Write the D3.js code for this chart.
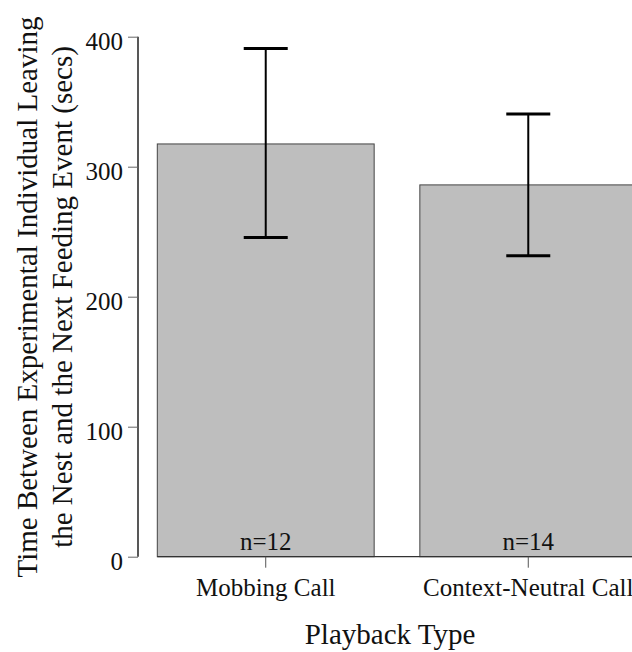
<!DOCTYPE html>
<html>
<head>
<meta charset="utf-8">
<script src="https://cdn.jsdelivr.net/npm/d3@7"></script>
<style>
  html, body { margin: 0; padding: 0; background: #fff; }
  svg text { font-family: "Liberation Serif", "Times New Roman", serif; fill: #111; }
</style>
</head>
<body>
<div id="graph-container"></div>
<script>
// data
const categories = ['Mobbing Call', 'Context-Neutral Call'];
const means = [317.5, 286];
const upper = [391, 340.5];
const lower = [245.5, 231.5];
const sampleSizes = ['n=12', 'n=14'];
const yTicks = [0, 100, 200, 300, 400];

const width = 632;
const height = 652;

const svg = d3.select('#graph-container')
              .append('svg')
              .attr('width', width)
              .attr('height', height);

const y = d3.scaleLinear()
            .domain([0, 400])
            .range([556.7, 36.7]);

// bars run off the right edge like in the original
const x = d3.scaleBand()
            .domain(categories)
            .range([157.3, 636.7])
            .paddingInner(0.174)
            .paddingOuter(0);

// bars
svg.selectAll('rect.bar')
   .data(categories)
   .enter()
   .append('rect')
   .attr('class', 'bar')
   .attr('x', d => x(d))
   .attr('y', (d, i) => y(means[i]))
   .attr('width', x.bandwidth())
   .attr('height', (d, i) => y(0) - y(means[i]))
   .attr('fill', '#bebebe')
   .attr('stroke', '#444')
   .attr('stroke-width', 1);

// baseline under the bars
svg.append('line')
   .attr('x1', x.range()[0])
   .attr('x2', x.range()[1])
   .attr('y1', y(0))
   .attr('y2', y(0))
   .attr('stroke', '#333')
   .attr('stroke-width', 1.2);

// error bars
const capHalf = 22;
const err = svg.selectAll('g.err')
               .data(categories)
               .enter()
               .append('g')
               .attr('class', 'err')
               .attr('stroke', '#000')
               .attr('stroke-width', 2);

err.append('line')
   .attr('x1', d => x(d) + x.bandwidth() / 2)
   .attr('x2', d => x(d) + x.bandwidth() / 2)
   .attr('y1', (d, i) => y(upper[i]))
   .attr('y2', (d, i) => y(lower[i]));

err.append('line')
   .attr('x1', d => x(d) + x.bandwidth() / 2 - capHalf)
   .attr('x2', d => x(d) + x.bandwidth() / 2 + capHalf)
   .attr('y1', (d, i) => y(upper[i]))
   .attr('y2', (d, i) => y(upper[i]))
   .attr('stroke-width', 3);

err.append('line')
   .attr('x1', d => x(d) + x.bandwidth() / 2 - capHalf)
   .attr('x2', d => x(d) + x.bandwidth() / 2 + capHalf)
   .attr('y1', (d, i) => y(lower[i]))
   .attr('y2', (d, i) => y(lower[i]))
   .attr('stroke-width', 3);

// sample sizes inside the bars
svg.selectAll('text.n')
   .data(categories)
   .enter()
   .append('text')
   .attr('class', 'n')
   .attr('x', d => x(d) + x.bandwidth() / 2)
   .attr('y', 550)
   .attr('text-anchor', 'middle')
   .attr('font-size', 25)
   .text((d, i) => sampleSizes[i]);

// y axis
const yAxis = svg.append('g')
                 .attr('transform', 'translate(138,0)')
                 .call(d3.axisLeft(y)
                         .tickValues(yTicks)
                         .tickSize(10)
                         .tickPadding(5));
yAxis.select('.domain')
     .attr('d', `M0,${y(400)}V${y(0)}`)
     .attr('stroke', '#111')
     .attr('stroke-width', 1.4);
yAxis.selectAll('.tick line')
     .attr('stroke', '#666');
yAxis.selectAll('.tick text')
     .attr('font-size', 25)
     .attr('fill', '#111')
     .attr('dy', '0.32em')
     .attr('y', 5);

// x axis ticks and labels
const xAxis = svg.append('g')
                 .attr('transform', `translate(0,${y(0)})`)
                 .call(d3.axisBottom(x)
                         .tickSize(11)
                         .tickPadding(10));
xAxis.select('.domain').remove();
xAxis.selectAll('.tick line')
     .attr('stroke', '#555');
xAxis.selectAll('.tick text')
     .attr('font-size', 25)
     .attr('fill', '#111')
     .attr('dy', 0)
     .attr('y', 39);

// axis titles
svg.append('text')
   .attr('x', 390)
   .attr('y', 644)
   .attr('text-anchor', 'middle')
   .attr('font-size', 29)
   .text('Playback Type');

const yTitle = svg.append('text')
                  .attr('transform', 'translate(0,297) rotate(-90)')
                  .attr('text-anchor', 'middle')
                  .attr('font-size', 29);
yTitle.append('tspan')
      .attr('x', 0)
      .attr('y', 37)
      .text('Time Between Experimental Individual Leaving');
yTitle.append('tspan')
      .attr('x', 0)
      .attr('y', 72)
      .text('the Nest and the Next Feeding Event (secs)');
</script>
</body>
</html>
